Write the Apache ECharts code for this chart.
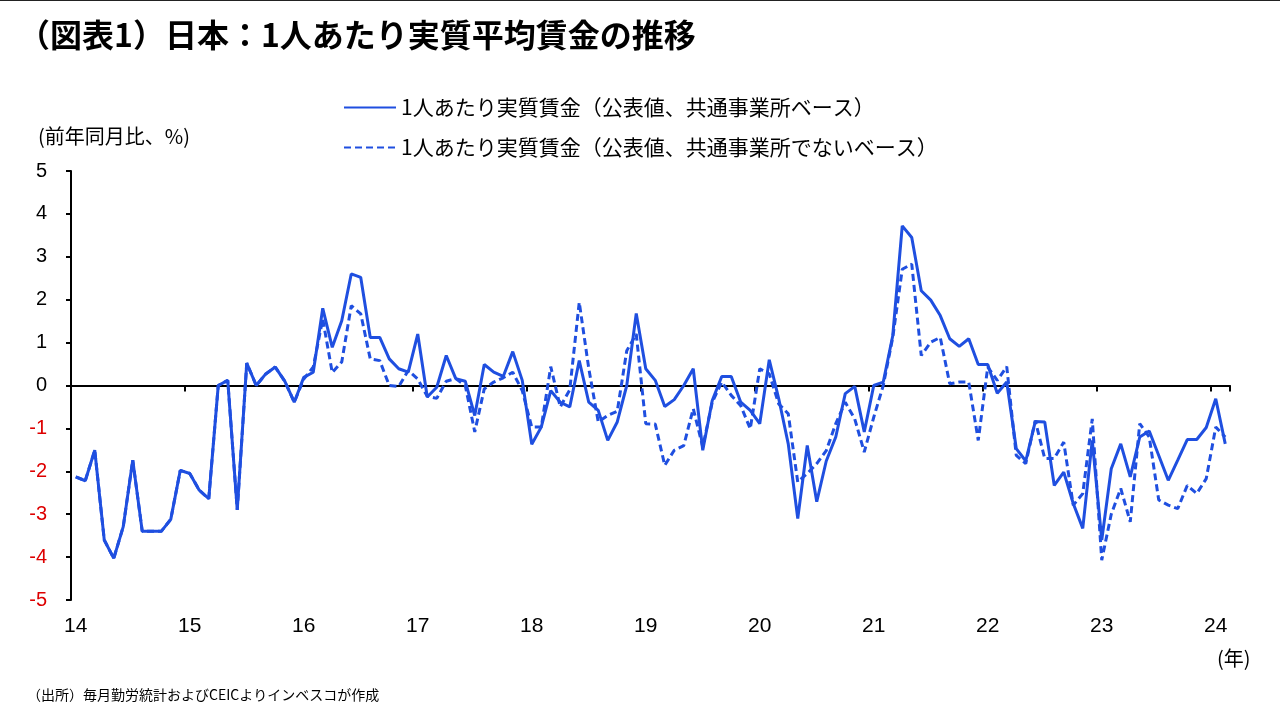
<!DOCTYPE html>
<html>
<head>
<meta charset="utf-8">
<script src="https://cdn.jsdelivr.net/npm/echarts@6/dist/echarts.min.js"></script>
<style>
  html, body { margin: 0; padding: 0; background: #fff; }
  #chart { width: 1280px; height: 720px; box-sizing: border-box; border-top: 1px solid #222; }
</style>
</head>
<body>
<div id="chart"></div>
<script>
// monthly, 2014-01 .. 2024-02
const firstYear = 2014;
const monthCount = 122;
const months = [];
for (let i = 0; i < monthCount; i++) {
  const y = firstYear + Math.floor(i / 12);
  const m = (i % 12) + 1;
  months.push(`${y}-${String(m).padStart(2, "0")}`);
}

const seriesNames = [
  "1人あたり実質賃金（公表値、共通事業所ベース）",
  "1人あたり実質賃金（公表値、共通事業所でないベース）",
];

// 共通事業所ベース (solid)
const wageCommon = [
  -2.13, -2.22, -1.51, -3.6, -4.03, -3.29, -1.74, -3.4, -3.4, -3.4, -3.12, -1.98,
  -2.05, -2.44, -2.64, 0.0, 0.12, -2.9, 0.52, 0.0, 0.27, 0.43, 0.1, -0.39,
  0.19, 0.31, 1.8, 0.89, 1.51, 2.6, 2.52, 1.12, 1.12, 0.62, 0.39, 0.31,
  1.2, -0.27, -0.04, 0.7, 0.16, 0.1, -0.7, 0.49, 0.31, 0.21, 0.79, 0.12,
  -1.37, -0.97, -0.12, -0.39, -0.5, 0.58, -0.39, -0.58, -1.28, -0.85, 0.0, 1.68,
  0.39, 0.12, -0.49, -0.33, 0.0, 0.39, -1.51, -0.35, 0.21, 0.21, -0.39, -0.58,
  -0.89, 0.6, -0.31, -1.36, -3.1, -1.4, -2.71, -1.76, -1.2, -0.19, -0.02, -1.08,
  0.0, 0.08, 1.16, 3.72, 3.45, 2.21, 1.99, 1.63, 1.09, 0.91, 1.09, 0.49,
  0.49, -0.18, 0.08, -1.47, -1.76, -0.84, -0.85, -2.33, -2.02, -2.75, -3.33, -1.28,
  -3.6, -1.94, -1.36, -2.13, -1.2, -1.06, -1.63, -2.21, -1.74, -1.26, -1.26, -0.98,
  -0.31, -1.36,
];

// 共通事業所でないベース (dashed)
const wageAll = [
  -2.13, -2.22, -1.51, -3.6, -4.03, -3.29, -1.74, -3.4, -3.4, -3.4, -3.12, -1.98,
  -2.05, -2.44, -2.64, 0.0, 0.12, -2.9, 0.52, 0.0, 0.27, 0.43, 0.1, -0.39,
  0.15, 0.43, 1.55, 0.3, 0.55, 1.86, 1.67, 0.62, 0.58, 0.0, -0.02, 0.35,
  0.15, -0.25, -0.3, 0.1, 0.16, 0.0, -1.08, -0.08, 0.08, 0.18, 0.31, -0.12,
  -0.97, -0.97, 0.44, -0.5, -0.1, 1.94, 0.4, -0.85, -0.7, -0.6, 0.81, 1.2,
  -0.89, -0.9, -1.86, -1.51, -1.4, -0.54, -1.43, -0.39, 0.08, -0.23, -0.47, -1.01,
  0.39, 0.27, -0.43, -0.66, -2.25, -2.05, -1.82, -1.52, -0.89, -0.39, -0.78, -1.55,
  -0.74, 0.0, 1.12, 2.71, 2.83, 0.7, 1.01, 1.12, 0.04, 0.08, 0.08, -1.28,
  0.43, 0.12, 0.44, -1.63, -1.82, -0.82, -1.7, -1.7, -1.32, -2.79, -2.52, -0.78,
  -4.07, -3.0, -2.4, -3.18, -0.89, -1.2, -2.67, -2.79, -2.87, -2.33, -2.52, -2.17,
  -0.97, -1.2,
];

const yMin = -5;
const yMax = 5;
const yStep = 1;

const blue = "#1f4fe0";
const red = "#dd0000";
const jp = "'Noto Sans CJK JP', 'Noto Sans', sans-serif";
const num = "'Liberation Sans', Arial, sans-serif";

const isJan = (idx) => idx % 12 === 0;
const yearLabel = (val) => val.slice(2, 4);

const chart = echarts.init(document.getElementById("chart"));
chart.setOption({
  animation: false,
  title: [
    { text: "（図表1）日本：1人あたり実質平均賃金の推移", left: 13, top: 13,
      textStyle: { fontFamily: jp, fontSize: 32, fontWeight: "bold", color: "#000" } },
    { text: "(前年同月比、%)", left: 33, top: 120,
      textStyle: { fontFamily: jp, fontSize: 20, fontWeight: "normal", color: "#000" } },
    { text: "(年)", left: 1212, top: 642,
      textStyle: { fontFamily: jp, fontSize: 20, fontWeight: "normal", color: "#000" } },
    { text: "（出所）毎月勤労統計およびCEICよりインベスコが作成", left: 22, top: 682,
      textStyle: { fontFamily: jp, fontSize: 14, fontWeight: "normal", color: "#000" } },
  ],
  legend: {
    orient: "vertical",
    left: 338,
    top: 91,
    itemWidth: 52,
    itemHeight: 14,
    itemGap: 19,
    itemStyle: { opacity: 0 },
    textStyle: { fontFamily: jp, fontSize: 21, color: "#000" },
    data: seriesNames,
  },
  grid: { left: 71, right: 50, top: 170, bottom: 120 },
  xAxis: [
    {
      type: "category",
      data: months,
      boundaryGap: true,
      position: "bottom",
      axisLine: { onZero: true, lineStyle: { color: "#000", width: 2 } },
      axisTick: { show: true, interval: isJan, length: 6, lineStyle: { color: "#000", width: 2 } },
      axisLabel: { show: false },
    },
    {
      type: "category",
      data: months,
      boundaryGap: true,
      position: "bottom",
      axisLine: { show: false, onZero: false },
      axisTick: { show: false },
      axisLabel: {
        interval: isJan,
        formatter: yearLabel,
        margin: 16,
        fontFamily: num,
        fontSize: 21,
        color: "#000",
      },
    },
  ],
  yAxis: {
    type: "value",
    min: yMin,
    max: yMax,
    interval: yStep,
    axisLine: { show: true, lineStyle: { color: "#000", width: 2 } },
    axisTick: { show: true, length: 5, lineStyle: { color: "#000", width: 2 } },
    splitLine: { show: false },
    axisLabel: {
      margin: 24,
      fontFamily: num,
      fontSize: 20,
      color: (v) => (Number(v) < 0 ? red : "#000"),
    },
  },
  series: [
    {
      name: seriesNames[1],
      type: "line",
      data: wageAll,
      symbol: "none",
      lineStyle: { color: blue, width: 3, type: [7, 4] },
      itemStyle: { color: blue },
    },
    {
      name: seriesNames[0],
      type: "line",
      data: wageCommon,
      symbol: "none",
      lineStyle: { color: blue, width: 3 },
      itemStyle: { color: blue },
    },
  ],
});
</script>
</body>
</html>
